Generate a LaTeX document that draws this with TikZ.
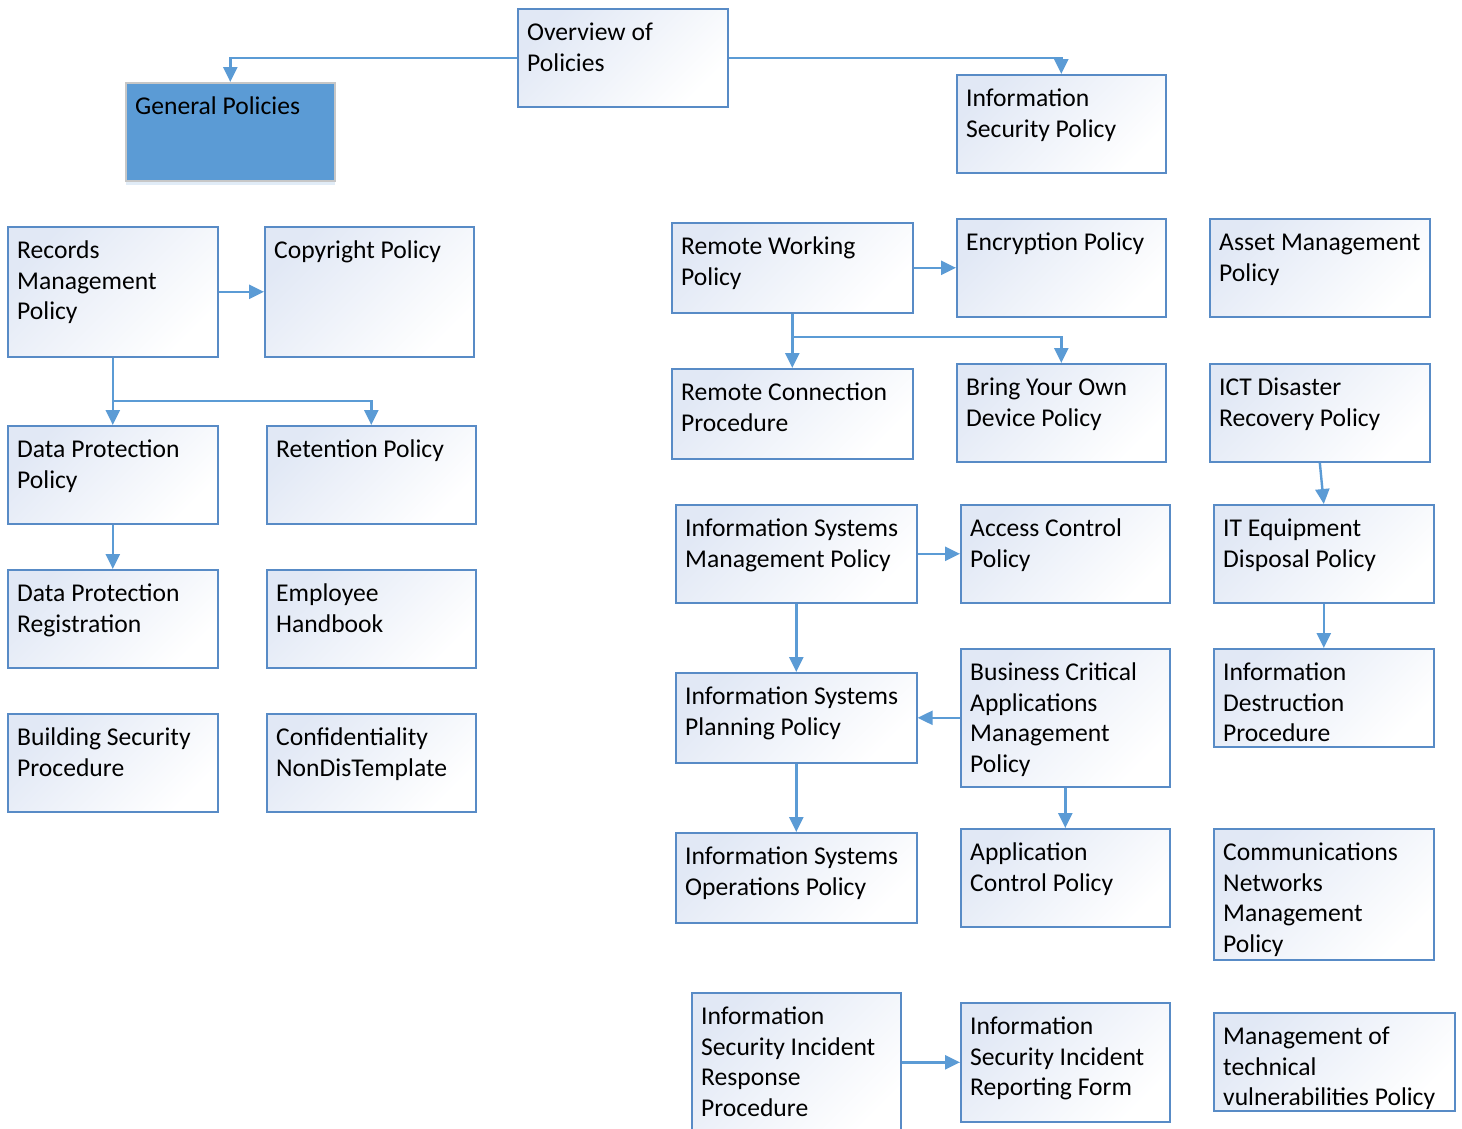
\documentclass[tikz,border=0pt]{standalone}
\usepackage{fontspec}
\setmainfont{Carlito}
\usetikzlibrary{arrows.meta,shadows,calc}
\definecolor{arrc}{RGB}{91,155,213}
\definecolor{bordc}{RGB}{88,139,198}
\definecolor{gradc}{RGB}{225,232,245}
\definecolor{genfill}{RGB}{91,155,213}
\tikzset{
 box/.style={draw=bordc, line width=1.6pt, top color=gradc, bottom color=white, shading angle=45, inner sep=0, anchor=north west},
 genbox/.style={draw=black!22, line width=1.6pt, fill=genfill, inner sep=0, anchor=north west,
   drop shadow={shadow xshift=0pt, shadow yshift=-4pt, opacity=.18, fill=arrc}},
 txt/.style={inner sep=0, anchor=base west, text=black},
 arr/.style={draw=arrc, line width=2.4pt, -{Triangle[length=15pt,width=14pt]}},
}
\newcommand\pbox[7][box]{%
 \node[#1, minimum width=#5pt-#3pt, minimum height=#6pt-#4pt] (#2) at (#3,#4) {};
 \node[txt] (#2-t) at ([xshift=10pt,yshift=-32.5pt]#2.north west) {\parbox[t]{300pt}{\fontsize{25.6}{30.5}\selectfont\raggedright #7}};}
\begin{document}
\begin{tikzpicture}[x=1pt,y=-1pt]
\clip (0,0) rectangle (1462,1128);
\fill[white] (0,0) rectangle (1462,1128);
% top
\pbox{ov}{517}{8}{727}{106}{Overview of\\Policies}
\pbox[genbox]{gen}{125}{82}{334}{180}{General Policies}
\pbox{isp}{956}{74}{1165}{172}{Information\\Security Policy}
% left column
\pbox{rec}{7}{226}{217}{356}{Records\\Management\\Policy}
\pbox{cop}{264}{226}{473}{356}{Copyright Policy}
\pbox{dp}{7}{425}{217}{523}{Data Protection\\Policy}
\pbox{ret}{266}{425}{475}{523}{Retention Policy}
\pbox{dpr}{7}{569}{217}{667}{Data Protection\\Registration}
\pbox{emp}{266}{569}{475}{667}{Employee\\Handbook}
\pbox{bsp}{7}{713}{217}{811}{Building Security\\Procedure}
\pbox{con}{266}{713}{475}{811}{Confidentiality\\NonDisTemplate}
% right part
\pbox{rw}{671}{222}{912}{312}{Remote Working\\Policy}
\pbox{enc}{956}{218}{1165}{316}{Encryption Policy}
\pbox{asm}{1209}{218}{1429}{316}{Asset Management\\Policy}
\pbox{rcp}{671}{368}{912}{458}{Remote Connection\\Procedure}
\pbox{byod}{956}{363}{1165}{461}{Bring Your Own\\Device Policy}
\pbox{ict}{1209}{363}{1429}{461}{ICT Disaster\\Recovery Policy}
\pbox{ism}{675}{504}{916}{602}{Information Systems\\Management Policy}
\pbox{ac}{960}{504}{1169}{602}{Access Control\\Policy}
\pbox{ite}{1213}{504}{1433}{602}{IT Equipment\\Disposal Policy}
\pbox{ispl}{675}{672}{916}{762}{Information Systems\\Planning Policy}
\pbox{bca}{960}{648}{1169}{786}{Business Critical\\Applications\\Management\\Policy}
\pbox{idp}{1213}{648}{1433}{746}{Information\\Destruction\\Procedure}
\pbox{iso}{675}{832}{916}{922}{Information Systems\\Operations Policy}
\pbox{apc}{960}{828}{1169}{926}{Application\\Control Policy}
\pbox{cnm}{1213}{828}{1433}{959}{Communications\\Networks\\Management\\Policy}
\pbox{isirp}{691}{992}{900}{1140}{Information\\Security Incident\\Response\\Procedure}
\pbox{isirf}{960}{1002}{1169}{1121}{Information\\Security Incident\\Reporting Form}
\pbox{mtv}{1213}{1012}{1454}{1110}{Management of\\technical\\vulnerabilities Policy}
% connectors
\coordinate (b1) at (112,401);
\coordinate (b2) at (791.5,337);
\draw[arr] (ov.west) -| (gen.north);
\draw[arr] (ov.east) -| (isp.north);
\draw[arr] (rec.east) -- (cop.west);
\draw[arr] (rec.south) -- (dp.north);
\draw[arr] (b1) -| (ret.north);
\draw[arr] (dp.south) -- (dpr.north);
\draw[arr] (rw.east) -- (enc.west);
\draw[arr] (rw.south) -- (rcp.north);
\draw[arr] (b2) -| (byod.north);
\draw[arr] (ict.south) -- (ite.north);
\draw[arr] (ite.south) -- (idp.north);
\draw[arr] (ism.east) -- (ac.west);
\draw[arr] (ism.south) -- (ispl.north);
\draw[arr] (bca.west) -- (ispl.east);
\draw[arr] (ispl.south) -- (iso.north);
\draw[arr] (bca.south) -- (apc.north);
\draw[arr] (isirp.east |- isirf.west) -- (isirf.west);
\end{tikzpicture}
\end{document}
